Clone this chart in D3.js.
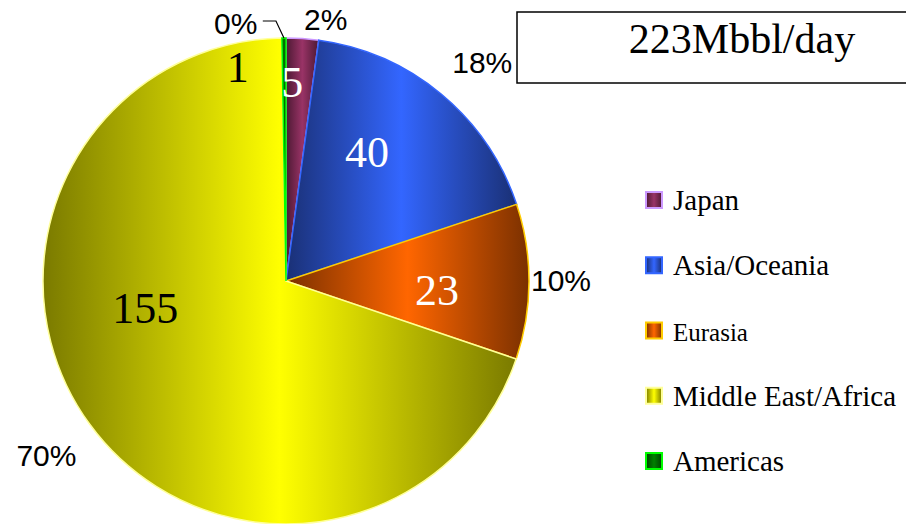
<!DOCTYPE html>
<html>
<head>
<meta charset="utf-8">
<script src="https://cdn.jsdelivr.net/npm/d3@7"></script>
<style>
  html, body { margin: 0; padding: 0; background: #fff; }
  svg { display: block; }
</style>
</head>
<body>
<div id="chart"></div>
<script>
// regions, clockwise from 12 o'clock (Mbbl/day)
var regions = ["Japan", "Asia/Oceania", "Eurasia", "Middle East/Africa", "Americas"];
var volumes = [4.8, 39.6, 23.0, 155.2, 0.6];
var brightColors = ["#993366", "#3366ff", "#ff6600", "#ffff00", "#008000"];
var darkColors = ["#4c1933", "#1a3075", "#7a3000", "#7a7a00", "#004000"];
var edgeColors = ["#cc99ff", "#3366ff", "#ffcc00", "#ffff99", "#00ff00"];
var valueColors = ["#fff", "#fff", "#fff", "#000", "#000"];

var width = 906, height = 524,
    cx = 286, cy = 281, r = 243;

var svg = d3.select("#chart").append("svg").attr("width", width).attr("height", height);
var defs = svg.append("defs");

regions.forEach(function (name, i) {
    var g = defs.append("linearGradient").attr("id", "grad" + i)
        .attr("x1", 0).attr("y1", 0).attr("x2", 1).attr("y2", 0);
    g.append("stop").attr("offset", 0).attr("stop-color", darkColors[i]);
    g.append("stop").attr("offset", 0.5).attr("stop-color", brightColors[i]);
    g.append("stop").attr("offset", 1).attr("stop-color", darkColors[i]);
});

var rows = regions.map(function (name, i) { return { name: name, value: volumes[i], i: i }; });
var total = d3.sum(volumes);

var pie = d3.pie().sort(null).value(function (d) { return d.value; });
var arcs = pie(rows);
var arc = d3.arc().innerRadius(0).outerRadius(r);
var midArc = d3.arc().innerRadius(152).outerRadius(152);
var outArc = d3.arc().innerRadius(262).outerRadius(262);

var g = svg.append("g").attr("transform", "translate(" + cx + "," + cy + ")");

g.selectAll("path.slice").data(arcs).enter().append("path")
    .attr("class", "slice")
    .attr("d", arc)
    .attr("fill", function (d) { return "url(#grad" + d.data.i + ")"; })
    .attr("stroke", function (d) { return edgeColors[d.data.i]; })
    .attr("stroke-width", 1.5);

// Excel shifted a few labels off their centroids
var valueNudge = [[-4, -47], [-16, -12], [-1, 9], [-18, -63], [-47, -62]];
var pctNudge = [[22, 0], [29, -17], [13, -2], [-28, 20], [-48, 4]];

g.selectAll("text.val").data(arcs).enter().append("text")
    .attr("class", "val")
    .attr("x", function (d) { return midArc.centroid(d)[0] + valueNudge[d.data.i][0]; })
    .attr("y", function (d) { return midArc.centroid(d)[1] + valueNudge[d.data.i][1]; })
    .attr("dy", "0.34em")
    .attr("text-anchor", "middle")
    .style("font-family", "'Liberation Serif', serif")
    .style("font-size", "44px")
    .attr("fill", function (d) { return valueColors[d.data.i]; })
    .text(function (d) { return Math.round(d.data.value); });

g.selectAll("text.pct").data(arcs).enter().append("text")
    .attr("class", "pct")
    .attr("x", function (d) { return outArc.centroid(d)[0] + pctNudge[d.data.i][0]; })
    .attr("y", function (d) { return outArc.centroid(d)[1] + pctNudge[d.data.i][1]; })
    .attr("dy", "0.36em")
    .attr("text-anchor", "middle")
    .style("font-family", "'Liberation Sans', Arial, sans-serif")
    .style("font-size", "30px")
    .attr("fill", "#000")
    .text(function (d) { return Math.round(d.data.value / total * 100) + "%"; });

// leader line for the tiny Americas slice
var am = arcs[4], amEdge = d3.arc().innerRadius(r).outerRadius(r).centroid(am);
var amLbl = outArc.centroid(am);
g.append("polyline")
    .attr("points", [[amLbl[0] + pctNudge[4][0] + 27, amLbl[1] + pctNudge[4][1] - 2],
                     [amEdge[0] - 8, amLbl[1] + pctNudge[4][1] - 2],
                     [amEdge[0], amEdge[1]]].join(" "))
    .attr("fill", "none").attr("stroke", "#000").attr("stroke-width", 1.2);

// total box
svg.append("rect").attr("x", 517).attr("y", 12).attr("width", 420).attr("height", 71)
    .attr("fill", "#fff").attr("stroke", "#000").attr("stroke-width", 1.5);
svg.append("text").attr("x", 742).attr("y", 53).attr("text-anchor", "middle")
    .style("font-family", "'Liberation Serif', serif").style("font-size", "42px")
    .text(Math.round(total) + "Mbbl/day");

// legend
var legendY = d3.scalePoint().domain(regions).range([200, 461]);
var legendSize = [29, 29, 25, 29, 29];
var legend = svg.selectAll("g.leg").data(rows).enter().append("g")
    .attr("class", "leg")
    .attr("transform", function (d) { return "translate(646," + legendY(d.name) + ")"; });
legend.append("rect").attr("x", 0).attr("y", -8).attr("width", 16).attr("height", 16)
    .attr("fill", function (d) { return "url(#grad" + d.i + ")"; })
    .attr("stroke", function (d) { return edgeColors[d.i]; })
    .attr("stroke-width", 2);
legend.append("text").attr("x", 27).attr("y", 10)
    .style("font-family", "'Liberation Serif', serif")
    .style("font-size", function (d) { return legendSize[d.i] + "px"; })
    .text(function (d) { return d.name; });
</script>
</body>
</html>
